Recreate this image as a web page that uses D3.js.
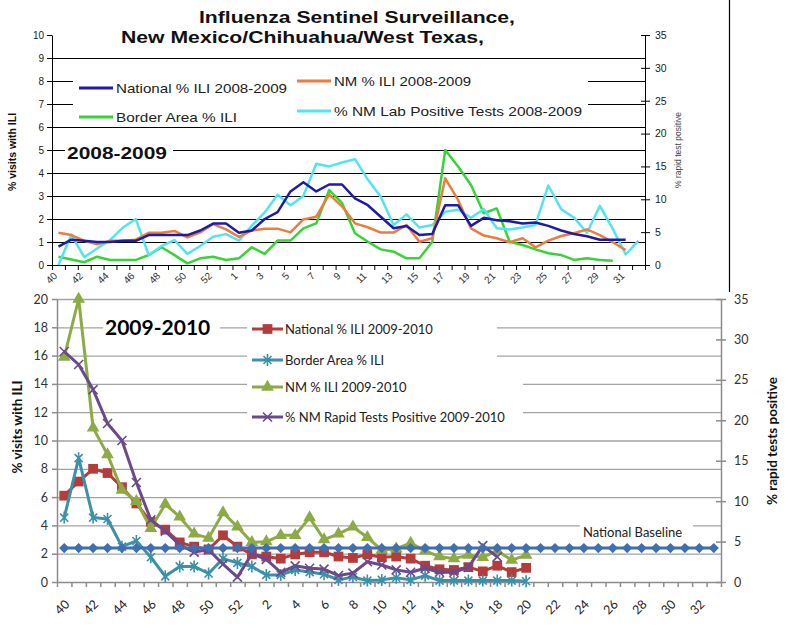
<!DOCTYPE html>
<html lang="en">
<head>
<meta charset="UTF-8">
<title>Influenza Sentinel Surveillance</title>
<script src="https://cdn.jsdelivr.net/npm/d3@7"></script>
<style>
  body { margin: 0; background: #fff; }
  svg { display: block; }
</style>
</head>
<body>
<script>
// ---- 2008-2009 season (top chart) ----
const weeks0809 = ["40","41","42","43","44","45","46","47","48","49","50","51","52","53",
  "1","2","3","4","5","6","7","8","9","10","11","12","13","14","15","16","17","18","19","20",
  "21","22","23","24","25","26","27","28","29","30","31","32"];
const national0809 = [0.8,1.1,1.05,1.0,1.0,1.05,1.05,1.3,1.3,1.3,1.3,1.5,1.8,1.8,1.4,1.5,2.0,2.3,
  3.2,3.6,3.2,3.5,3.5,2.9,2.6,2.1,1.6,1.7,1.3,1.35,2.6,2.6,1.7,2.05,1.95,1.9,1.8,1.85,1.7,1.5,
  1.35,1.25,1.1,1.1,1.1];
const nm0809 = [1.4,1.3,1.05,0.9,1.05,1.05,1.1,1.4,1.4,1.48,1.2,1.42,1.78,1.55,1.22,1.5,1.58,1.58,
  1.42,1.98,2.1,3.07,2.55,1.81,1.64,1.41,1.41,1.74,1.01,1.16,3.77,2.83,1.59,1.28,1.16,0.99,1.16,
  0.77,1.06,1.26,1.38,1.55,1.3,0.99,0.65];
const border0809 = [0.36,0.24,0.12,0.36,0.22,0.22,0.22,0.43,0.77,0.43,0.07,0.29,0.36,0.22,0.29,
  0.77,0.48,1.06,1.06,1.59,1.81,3.26,2.7,1.38,1.01,0.68,0.58,0.29,0.29,1.01,5.0,4.28,3.48,2.25,
  2.46,1.01,0.87,0.68,0.51,0.43,0.22,0.29,0.22,0.19];
// lab positive tests, right axis (%)
const lab0809 = [0,4.6,1.2,2.5,3.8,5.7,7.0,1.5,2.9,3.8,1.7,2.9,4.3,4.7,3.7,6.0,8.0,10.7,9.1,10.5,
  15.4,15.0,15.6,16.1,13.0,10.4,6.1,7.7,5.7,6.1,8.1,8.4,7.2,8.5,5.6,5.4,5.7,6.1,12.1,8.5,7.2,
  4.9,9.0,5.5,1.6,3.7];

// ---- 2009-2010 season (bottom chart) ----
const weeks0910 = ["40","41","42","43","44","45","46","47","48","49","50","51","52",
  "1","2","3","4","5","6","7","8","9","10","11","12","13","14","15","16","17","18","19","20",
  "21","22","23","24","25","26","27","28","29","30","31","32","33"];
const national0910 = [6.1,7.1,8.0,7.7,6.7,5.55,4.25,3.7,2.8,2.5,2.3,3.3,2.5,1.95,1.8,1.65,1.95,
  2.1,2.1,1.8,1.7,1.95,1.75,1.8,1.65,1.15,0.9,0.85,1.05,0.75,1.15,0.7,1.0];
const border0910 = [4.55,8.75,4.55,4.45,2.5,2.9,1.75,0.4,1.1,1.1,0.6,1.65,1.35,1.1,0.5,0.5,0.85,
  0.7,0.55,0.15,0.35,0.1,0.15,0.3,0.15,0.45,0.1,0.1,0.1,0.1,0.1,0.1,0.05];
const nm0910 = [15.9,20.0,10.9,9.0,6.5,5.7,3.8,5.5,4.6,3.4,3.1,4.9,3.9,2.8,2.85,3.3,3.3,4.55,
  3.0,3.4,3.9,3.15,2.25,2.35,2.75,2.2,1.8,1.65,1.9,1.75,2.2,1.55,1.9];
// rapid tests positive, right axis (%)
const rapid0910 = [28.5,26.9,23.8,19.6,17.5,12.3,7.7,6.3,4.6,3.7,4.0,2.2,0.6,3.5,2.8,1.2,2.0,
  1.7,1.6,0.8,1.1,2.5,2.1,1.5,1.2,1.7,1.2,1.2,1.8,4.5,3.1];
const baselineValue = 2.4;
const baseline0910 = weeks0910.map(() => baselineValue);

const ARIAL = "'Liberation Sans', Arial, sans-serif";
const CAL = "Lato, 'Open Sans', sans-serif";

const svg = d3.select("body").append("svg")
    .attr("width", 800)
    .attr("height", 640);

// the top image is a bit stretched sideways, so its texts get a fixed length
function stretched(sel, len) {
    return sel.attr("textLength", len).attr("lengthAdjust", "spacingAndGlyphs");
}

// ======================= top chart =======================
const p1 = { l: 52, r: 645, t: 35, b: 265 };
const x1 = d3.scaleBand().domain(weeks0809).range([p1.l, p1.r]);
const e1 = d3.scaleLinear().domain([0, weeks0809.length]).range([p1.l, p1.r]);
const y1 = d3.scaleLinear().domain([0, 10]).range([p1.b, p1.t]);
const y1r = d3.scaleLinear().domain([0, 35]).range([p1.b, p1.t]);

// title
stretched(svg.append("text").attr("x", 199).attr("y", 23)
    .style("font", `bold 16.5px ${ARIAL}`).attr("fill", "#111")
    .text("Influenza Sentinel Surveillance,"), 316);
stretched(svg.append("text").attr("x", 121).attr("y", 43)
    .style("font", `bold 16.5px ${ARIAL}`).attr("fill", "#111")
    .text("New Mexico/Chihuahua/West Texas,"), 363);

// grid
svg.append("g")
    .attr("transform", `translate(${p1.l},0)`)
    .call(d3.axisLeft(y1).tickValues(d3.range(1, 10)).tickSize(-(p1.r - p1.l)).tickFormat(""))
    .call(g => g.select(".domain").remove())
    .selectAll("line").attr("stroke", "#000");

// white boxes behind legend and season label
svg.append("rect").attr("x", 73).attr("y", 66).attr("width", 515).attr("height", 56).attr("fill", "#fff");
svg.append("rect").attr("x", 65).attr("y", 140).attr("width", 108).attr("height", 22).attr("fill", "#fff");

// axes
svg.append("g")
    .attr("transform", `translate(${p1.l},0)`)
    .call(d3.axisLeft(y1).ticks(10).tickSize(5).tickSizeOuter(0))
    .call(g => g.selectAll("text").style("font", `10px ${ARIAL}`).attr("fill", "#222"))
    .call(g => g.selectAll("line,path").attr("stroke", "#000"));

svg.append("g")
    .attr("transform", `translate(${p1.r},0)`)
    .call(d3.axisRight(y1r).tickValues(d3.range(0, 36, 5)).tickSize(5).tickSizeOuter(0))
    .call(g => g.selectAll(".tick line").attr("x1", -4))
    .call(g => g.selectAll("text").attr("x", 10).style("font", `10.5px ${ARIAL}`).attr("fill", "#222"))
    .call(g => g.selectAll("line,path").attr("stroke", "#000"));

svg.append("g")
    .attr("transform", `translate(0,${p1.b})`)
    .call(d3.axisBottom(e1).tickValues(d3.range(weeks0809.length + 1)).tickSize(5).tickSizeOuter(0).tickFormat(""))
    .call(g => g.selectAll("line,path").attr("stroke", "#000"));

svg.append("g")
    .attr("transform", `translate(0,${p1.b})`)
    .call(d3.axisBottom(x1).tickSize(0).tickFormat((d, i) => i % 2 ? "" : d))
    .call(g => g.select(".domain").remove())
    .selectAll("text")
    .attr("y", 0).attr("dy", "0.35em")
    .attr("text-anchor", "end")
    .attr("transform", "translate(-3,9) rotate(-45)")
    .style("font", `10px ${ARIAL}`).attr("fill", "#333");

// axis titles
svg.append("text")
    .attr("transform", "translate(16,152) rotate(-90)")
    .attr("text-anchor", "middle")
    .style("font", `bold 10.5px ${ARIAL}`).attr("fill", "#111")
    .text("% visits with ILI");
svg.append("text")
    .attr("transform", "translate(681,150) rotate(-90)")
    .attr("text-anchor", "middle")
    .style("font", `8.5px ${ARIAL}`).attr("fill", "#444")
    .text("% rapid test positive");

stretched(svg.append("text").attr("x", 67).attr("y", 159)
    .style("font", `bold 16px ${ARIAL}`).attr("fill", "#111")
    .text("2008-2009"), 100);

// series
const cx1 = (d, i) => x1(weeks0809[i]) + x1.bandwidth() / 2;
const series1 = [
    { name: "Border Area % ILI", values: border0809, y: y1, color: "#36d436" },
    { name: "% NM Lab Positive Tests 2008-2009", values: lab0809, y: y1r, color: "#52e5f0" },
    { name: "NM % ILI 2008-2009", values: nm0809, y: y1, color: "#ef7b3c" },
    { name: "National % ILI 2008-2009", values: national0809, y: y1, color: "#1c1ca8" }
];
series1.forEach(s => {
    svg.append("path")
        .datum(s.values)
        .attr("d", d3.line().x(cx1).y(d => s.y(d)))
        .attr("fill", "none")
        .attr("stroke", s.color)
        .attr("stroke-width", 2.5)
        .attr("stroke-linejoin", "round");
});

// legend (top)
const leg1 = [
    { name: "National % ILI 2008-2009", color: "#1c1ca8", x: 79, y: 88, len: 171 },
    { name: "Border Area % ILI", color: "#36d436", x: 79, y: 117, len: 121 },
    { name: "NM % ILI 2008-2009", color: "#ef7b3c", x: 297, y: 81, len: 137 },
    { name: "% NM Lab Positive Tests 2008-2009", color: "#52e5f0", x: 297, y: 111, len: 248 }
];
leg1.forEach(d => {
    svg.append("line").attr("x1", d.x).attr("x2", d.x + 34).attr("y1", d.y).attr("y2", d.y)
        .attr("stroke", d.color).attr("stroke-width", 3);
    stretched(svg.append("text").attr("x", d.x + 37).attr("y", d.y).attr("dy", "0.35em")
        .style("font", `13.5px ${ARIAL}`).attr("fill", "#222")
        .text(d.name), d.len);
});

// frame line at right of top image
svg.append("line").attr("x1", 729.5).attr("x2", 729.5).attr("y1", 0).attr("y2", 292)
    .attr("stroke", "#000").attr("stroke-width", 1.2);

// ======================= bottom chart =======================
const p2 = { l: 57, r: 721, t: 299, b: 582 };
const x2 = d3.scaleBand().domain(weeks0910).range([p2.l, p2.r]);
const e2 = d3.scaleLinear().domain([0, weeks0910.length]).range([p2.l, p2.r]);
const y2 = d3.scaleLinear().domain([0, 20]).range([p2.b, p2.t]);
const y2r = d3.scaleLinear().domain([0, 35]).range([p2.b, p2.t]);
const GRAY = "#8c8c8c";

svg.append("g")
    .attr("transform", `translate(${p2.l},0)`)
    .call(d3.axisLeft(y2).tickValues(d3.range(2, 21, 2)).tickSize(-(p2.r - p2.l)).tickFormat(""))
    .call(g => g.select(".domain").remove())
    .selectAll("line").attr("stroke", "#a3a3a3").attr("stroke-width", 1.3);

// white boxes behind legend texts
svg.append("rect").attr("x", 103).attr("y", 317).attr("width", 117).attr("height", 22).attr("fill", "#fff");
svg.append("rect").attr("x", 247).attr("y", 317).attr("width", 250).attr("height", 48).attr("fill", "#fff");
svg.append("rect").attr("x", 247).attr("y", 372).attr("width", 276).attr("height", 50).attr("fill", "#fff");
svg.append("rect").attr("x", 580).attr("y", 517).attr("width", 113).attr("height", 22).attr("fill", "#fff");

svg.append("g")
    .attr("transform", `translate(${p2.l},0)`)
    .call(d3.axisLeft(y2).tickValues(d3.range(0, 21, 2)).tickSize(5).tickSizeOuter(0))
    .call(g => g.selectAll("text").attr("x", -9).style("font", `12.5px ${CAL}`).attr("fill", "#333"))
    .call(g => g.selectAll("line,path").attr("stroke", GRAY).attr("stroke-width", 1.5));

svg.append("g")
    .attr("transform", `translate(${p2.r},0)`)
    .call(d3.axisRight(y2r).tickValues(d3.range(0, 36, 5)).tickSize(5).tickSizeOuter(0))
    .call(g => g.selectAll(".tick line").attr("x1", -5))
    .call(g => g.selectAll("text").attr("x", 13).style("font", `12.5px ${CAL}`).attr("fill", "#333"))
    .call(g => g.selectAll("line,path").attr("stroke", GRAY).attr("stroke-width", 1.5));

svg.append("g")
    .attr("transform", `translate(0,${p2.b})`)
    .call(d3.axisBottom(e2).tickValues(d3.range(weeks0910.length + 1)).tickSize(5).tickSizeOuter(0).tickFormat(""))
    .call(g => g.selectAll("line,path").attr("stroke", GRAY).attr("stroke-width", 1.5));

svg.append("g")
    .attr("transform", `translate(0,${p2.b})`)
    .call(d3.axisBottom(x2).tickSize(0).tickFormat((d, i) => i % 2 ? "" : d))
    .call(g => g.select(".domain").remove())
    .selectAll("text")
    .attr("y", 0).attr("dy", "0.35em")
    .attr("text-anchor", "end")
    .attr("transform", "translate(3,20) rotate(-45)")
    .style("font", `12.5px ${CAL}`).attr("fill", "#222");

svg.append("text")
    .attr("transform", "translate(22,427) rotate(-90)")
    .attr("text-anchor", "middle")
    .style("font", `bold 13.5px ${CAL}`).attr("fill", "#111")
    .text("% visits with ILI");
svg.append("text")
    .attr("transform", "translate(777,441) rotate(-90)")
    .attr("text-anchor", "middle")
    .style("font", `bold 13.5px ${CAL}`).attr("fill", "#111")
    .text("% rapid tests positive");

svg.append("text").attr("x", 105).attr("y", 335)
    .style("font", `bold 21px ${CAL}`).attr("fill", "#000")
    .text("2009-2010");

svg.append("text").attr("x", 583).attr("y", 532).attr("dy", "0.35em")
    .style("font", `13px ${CAL}`).attr("fill", "#222")
    .text("National Baseline");

// marker shapes
const starPath = "M-4,-4L4,4M-4,4L4,-4M0,-6L0,6";
const crossPath = "M-4.5,-4.5L4.5,4.5M-4.5,4.5L4.5,-4.5";
const sym = {
    square: d3.symbol(d3.symbolSquare, 95)(),
    triangle: d3.symbol(d3.symbolTriangle, 70)(),
    diamond: d3.symbol(d3.symbolSquare, 52)()
};
function drawMarker(g, kind, color) {
    if (kind === "star" || kind === "cross") {
        g.append("path").attr("d", kind === "star" ? starPath : crossPath)
            .attr("fill", "none").attr("stroke", color).attr("stroke-width", 1.6);
    } else {
        g.append("path").attr("d", sym[kind]).attr("fill", color)
            .attr("transform", kind === "diamond" ? "rotate(45)" : null);
    }
}

const cx2 = (d, i) => x2(weeks0910[i]) + x2.bandwidth() / 2;
const series2 = [
    { name: "National % ILI 2009-2010", values: national0910, y: y2, color: "#b43d3b", marker: "square" },
    { name: "Border Area % ILI", values: border0910, y: y2, color: "#3b91a8", marker: "star" },
    { name: "NM % ILI 2009-2010", values: nm0910, y: y2, color: "#8dab45", marker: "triangle" },
    { name: "% NM Rapid Tests Positive 2009-2010", values: rapid0910, y: y2r, color: "#6b4a8c", marker: "cross" },
    { name: "National Baseline", values: baseline0910, y: y2, color: "#3f6eb3", marker: "diamond" }
];
series2.forEach(s => {
    svg.append("path")
        .datum(s.values)
        .attr("d", d3.line().x(cx2).y(d => s.y(d)))
        .attr("fill", "none")
        .attr("stroke", s.color)
        .attr("stroke-width", 3)
        .attr("stroke-linejoin", "round");
    svg.append("g").selectAll("g")
        .data(s.values)
        .join("g")
        .attr("transform", (d, i) => `translate(${cx2(d, i)},${s.y(d)})`)
        .each(function () { drawMarker(d3.select(this), s.marker, s.color); });
});

// legend (bottom)
const leg2 = [
    { name: series2[0].name, color: series2[0].color, marker: "square", y: 329 },
    { name: series2[1].name, color: series2[1].color, marker: "star", y: 360 },
    { name: series2[2].name, color: series2[2].color, marker: "triangle", y: 387 },
    { name: series2[3].name, color: series2[3].color, marker: "cross", y: 417 }
];
leg2.forEach(d => {
    svg.append("line").attr("x1", 252).attr("x2", 283).attr("y1", d.y).attr("y2", d.y)
        .attr("stroke", d.color).attr("stroke-width", 3);
    drawMarker(svg.append("g").attr("transform", `translate(267.5,${d.y})`), d.marker, d.color);
    svg.append("text").attr("x", 285).attr("y", d.y).attr("dy", "0.35em")
        .style("font", `13px ${CAL}`).attr("fill", "#222")
        .text(d.name);
});
</script>
</body>
</html>
